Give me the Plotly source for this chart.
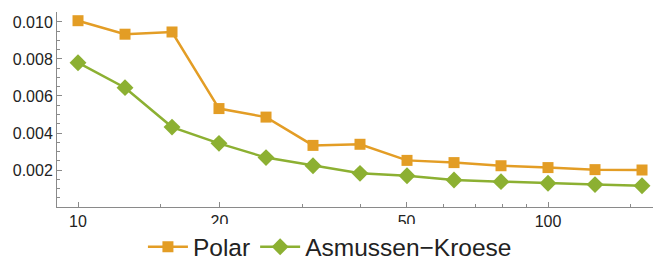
import plotly.graph_objects as go

# x positions: 10^(1 + 0.1k)
n_values = [10.0, 12.59, 15.85, 19.95, 25.12, 31.62, 39.81, 50.12, 63.10, 79.43, 100.0, 125.9, 158.5]
polar = [0.01007, 0.00934, 0.00946, 0.00532, 0.00486, 0.00333, 0.00339, 0.00252,
         0.00240, 0.00223, 0.00213, 0.00202, 0.00200]
asmussen_kroese = [0.00780, 0.00645, 0.00432, 0.00344, 0.00267, 0.00223, 0.00182, 0.00169,
                   0.00146, 0.00137, 0.00128, 0.00121, 0.00115]

x_ticks = [10, 20, 50, 100]
x_minor = [15, 30, 40, 60, 70, 80, 90, 150]
y_ticks = [0.002, 0.004, 0.006, 0.008, 0.010]
y_tick_text = ["0.002", "0.004", "0.006", "0.008", "0.010"]

orange = "#E39D25"
green = "#8CB032"
axis_col = "#8a8a8a"
font_fam = "Liberation Sans, Arial, sans-serif"

fig = go.Figure()
fig.add_trace(go.Scatter(
    x=n_values, y=polar, name="Polar", mode="lines+markers",
    line=dict(color=orange, width=2.5),
    marker=dict(symbol="square", size=11, color=orange),
))
fig.add_trace(go.Scatter(
    x=n_values, y=asmussen_kroese, name="Asmussen\u2212Kroese", mode="lines+markers",
    line=dict(color=green, width=2.5),
    marker=dict(symbol="diamond", size=13, color=green),
))

# page body has an 8px default margin, so the figure is sized/offset to compensate
fig.update_layout(
    width=657, height=252,
    margin=dict(l=49, r=12, t=4, b=53),
    paper_bgcolor="white", plot_bgcolor="white",
    font=dict(family=font_fam, color="#222222"),
    showlegend=True,
    legend=dict(
        orientation="h", xref="container", yref="container",
        x=0.49, xanchor="center", y=0.052, yanchor="middle",
        font=dict(size=24.5, family=font_fam, color="#222222"),
        itemwidth=40, tracegroupgap=0,
    ),
    xaxis=dict(
        type="log", range=[0.9553, 2.2234], automargin=False,
        tickmode="array", tickvals=x_ticks, ticktext=[str(v) for v in x_ticks],
        ticks="inside", ticklen=5, tickwidth=1, tickcolor=axis_col,
        showline=True, linecolor=axis_col, linewidth=1,
        showgrid=False, zeroline=False,
        tickfont=dict(size=16, family=font_fam, color="#222222"),
        minor=dict(tickmode="array", tickvals=x_minor, ticks="inside", ticklen=3,
                   tickcolor=axis_col, showgrid=False),
    ),
    yaxis=dict(
        range=[0, 0.01054], automargin=False,
        tickmode="array", tickvals=y_ticks, ticktext=y_tick_text,
        ticks="inside", ticklen=5, tickwidth=1, tickcolor=axis_col,
        showline=True, linecolor=axis_col, linewidth=1,
        showgrid=False, zeroline=False,
        tickfont=dict(size=16, family=font_fam, color="#222222"),
        minor=dict(dtick=0.0005, tick0=0, ticks="inside", ticklen=3,
                   tickcolor=axis_col, showgrid=False),
    ),
)

fig.write_html("out.html")
